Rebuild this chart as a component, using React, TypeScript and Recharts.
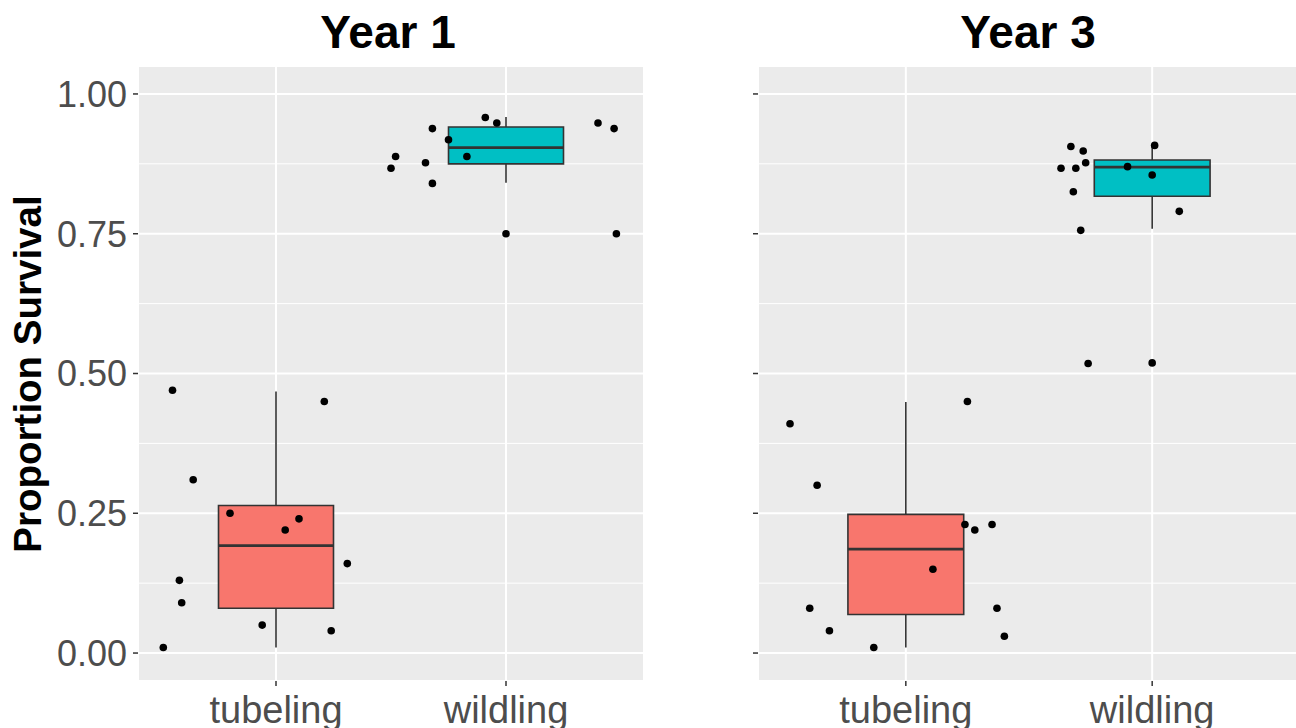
import { ComposedChart, XAxis, YAxis, CartesianGrid, Scatter, ReferenceArea, ReferenceLine } from "recharts";

const categories = ["tubeling", "wildling"];
const yTicks = [0, 0.25, 0.5, 0.75, 1];
const minorTicks = [0.125, 0.375, 0.625, 0.875];

// Year 1, jittered points
const y1TubelingX = [0.55, 0.64, 0.58, 0.59, 0.51, 0.8, 1.04, 1.1, 1.21, 1.31, 0.94, 1.24];
const y1TubelingY = [0.47, 0.31, 0.13, 0.09, 0.01, 0.25, 0.22, 0.24, 0.45, 0.16, 0.05, 0.04];
const y1WildlingX = [1.5, 1.52, 1.65, 1.68, 1.68, 1.75, 1.83, 1.91, 1.96, 2.4, 2.47, 2.48];
const y1WildlingY = [0.867, 0.888, 0.877, 0.938, 0.84, 0.918, 0.888, 0.958, 0.948, 0.948, 0.938, 0.75];

// Year 3, jittered points
const y3TubelingX = [0.53, 0.64, 0.61, 0.69, 0.87, 1.11, 1.25, 1.24, 1.28, 1.35, 1.37, 1.4];
const y3TubelingY = [0.41, 0.3, 0.08, 0.04, 0.01, 0.15, 0.45, 0.23, 0.22, 0.23, 0.08, 0.03];
const y3WildlingX = [1.67, 1.72, 1.73, 1.63, 1.69, 1.68, 1.71, 1.74, 1.9, 2.0, 2.01, 2.11];
const y3WildlingY = [0.906, 0.898, 0.877, 0.867, 0.867, 0.825, 0.756, 0.518, 0.87, 0.855, 0.908, 0.79];

// box stats: [min, q1, median, q3, max]
const y1Tubeling = [0.01, 0.08, 0.192, 0.264, 0.468];
const y1Wildling = [0.841, 0.875, 0.904, 0.941, 0.959];
const y3Tubeling = [0.01, 0.069, 0.186, 0.248, 0.449];
const y3Wildling = [0.759, 0.817, 0.869, 0.882, 0.908];
const y1Outliers = [0.75];
const y3Outliers = [0.519];

const fills = ["#F8766D", "#00BFC4"];
const FONT = '"Liberation Sans", Arial, sans-serif';

const toPoints = (xs: number[], ys: number[]) => xs.map((x, i) => ({ x, y: ys[i] }));

const Dot = (p: any) => <circle cx={p.cx} cy={p.cy} r={3.8} fill="#000" />;

type PanelProps = {
  width: number;
  right: number;
  yAxisWidth: number;
  boxes: number[][];
  outliers: number[];
  points: { x: number; y: number }[];
  half: number;
  showLabels: boolean;
};

const Panel = ({ width, right, yAxisWidth, boxes, outliers, points, half, showLabels }: PanelProps) => (
  <ComposedChart width={width} height={728} margin={{ top: 66, right, bottom: 0, left: 0 }}>
    <CartesianGrid fill="#EBEBEB" stroke="#FFFFFF" strokeWidth={2} strokeDasharray="" />
    <CartesianGrid fill="none" stroke="#FFFFFF" strokeWidth={1} vertical={false} yAxisId="minor" />
    <XAxis
      dataKey="x"
      type="number"
      domain={[0.4, 2.6]}
      ticks={[1, 2]}
      tickFormatter={(v: number) => categories[v - 1]}
      axisLine={false}
      tickLine={{ stroke: "#333333", strokeWidth: 1.5 }}
      tickSize={5}
      tickMargin={10}
      height={47}
      tick={{ fontSize: 38, fill: "#4D4D4D", fontFamily: FONT }}
      allowDataOverflow
    />
    <YAxis
      dataKey="y"
      type="number"
      domain={[-0.05, 1.05]}
      ticks={yTicks}
      tickFormatter={(v: number) => (showLabels ? v.toFixed(2) : "")}
      axisLine={false}
      tickLine={{ stroke: "#333333", strokeWidth: 1.5 }}
      tickSize={5}
      tickMargin={6}
      width={yAxisWidth}
      tick={{ fontSize: 36, fill: "#4D4D4D", fontFamily: FONT }}
      allowDataOverflow
    />
    <YAxis yAxisId="minor" type="number" domain={[-0.05, 1.05]} ticks={minorTicks} hide allowDataOverflow />
    {boxes.map((b, i) => (
      <ReferenceLine
        key={`wl${i}`}
        segment={[{ x: i + 1, y: b[0] }, { x: i + 1, y: b[1] }]}
        stroke="#333333"
        strokeWidth={1.6}
      />
    ))}
    {boxes.map((b, i) => (
      <ReferenceLine
        key={`wh${i}`}
        segment={[{ x: i + 1, y: b[3] }, { x: i + 1, y: b[4] }]}
        stroke="#333333"
        strokeWidth={1.6}
      />
    ))}
    {boxes.map((b, i) => (
      <ReferenceArea
        key={`box${i}`}
        x1={i + 1 - half}
        x2={i + 1 + half}
        y1={b[1]}
        y2={b[3]}
        fill={fills[i]}
        fillOpacity={1}
        stroke="#333333"
        strokeWidth={1.6}
      />
    ))}
    {boxes.map((b, i) => (
      <ReferenceLine
        key={`med${i}`}
        segment={[{ x: i + 1 - half, y: b[2] }, { x: i + 1 + half, y: b[2] }]}
        stroke="#333333"
        strokeWidth={2.8}
      />
    ))}
    <Scatter data={outliers.map((y) => ({ x: 2, y }))} shape={Dot} isAnimationActive={false} />
    <Scatter data={points} shape={Dot} isAnimationActive={false} />
  </ComposedChart>
);

const App = () => (
  <div style={{ position: "fixed", left: 0, top: 0, width: 1296, height: 728, overflow: "hidden", background: "#fff", fontFamily: FONT }}>
    <div style={{ position: "absolute", left: 188, top: 9, width: 400, textAlign: "center", fontSize: 46, lineHeight: "46px", fontWeight: "bold" }}>
      Year 1
    </div>
    <div style={{ position: "absolute", left: 828, top: 9, width: 400, textAlign: "center", fontSize: 46, lineHeight: "46px", fontWeight: "bold" }}>
      Year 3
    </div>
    <div style={{ position: "absolute", left: 0, top: 0, width: 664 }}>
      <Panel
        width={664}
        right={20}
        yAxisWidth={138}
        boxes={[y1Tubeling, y1Wildling]}
        outliers={y1Outliers}
        points={[...toPoints(y1TubelingX, y1TubelingY), ...toPoints(y1WildlingX, y1WildlingY)]}
        half={0.25}
        showLabels
      />
    </div>
    <div style={{ position: "absolute", left: 640, top: 0, width: 720 }}>
      <Panel
        width={720}
        right={60}
        yAxisWidth={118}
        boxes={[y3Tubeling, y3Wildling]}
        outliers={y3Outliers}
        points={[...toPoints(y3TubelingX, y3TubelingY), ...toPoints(y3WildlingX, y3WildlingY)]}
        half={0.235}
        showLabels={false}
      />
    </div>
    <svg width={80} height={728} style={{ position: "absolute", left: 0, top: 0 }}>
      <text x={41} y={374} transform="rotate(-90, 41, 374)" textAnchor="middle" fontSize={38.5} fontWeight="bold" fontFamily={FONT} fill="#000">
        Proportion Survival
      </text>
    </svg>
  </div>
);

export default App;
